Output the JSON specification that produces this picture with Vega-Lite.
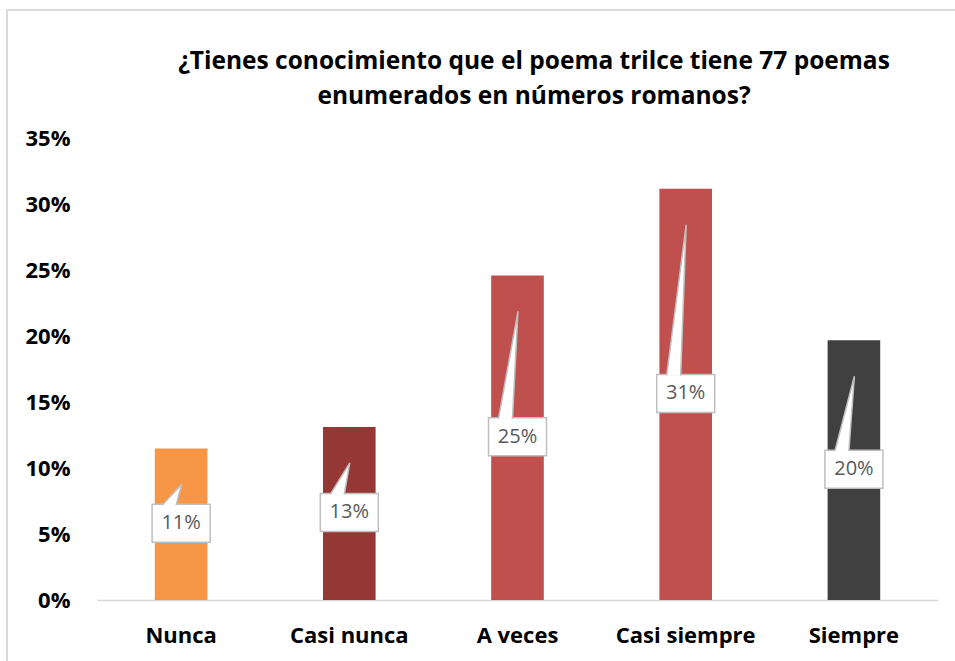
{
  "$schema": "https://vega.github.io/schema/vega-lite/v6.json",
  "width": 960,
  "height": 660,
  "autosize": "none",
  "padding": {"left": 7, "top": 10, "right": 0, "bottom": 0},
  "background": "white",
  "config": {"view": {"stroke": "#D9D9D9", "strokeWidth": 2}, "font": "Open Sans"},
  "title": {
    "text": ["¿Tienes conocimiento que el poema trilce tiene 77 poemas", "enumerados en números romanos?"],
    "font": "Open Sans", "fontSize": 24.5, "fontWeight": "bold", "color": "black",
    "lineHeight": 35, "anchor": "middle", "frame": "group", "dx": 47, "offset": -118, "baseline": "alphabetic"
  },
  "data": {"values": [
    {"respuesta": "Nunca", "porcentaje": 0.1148},
    {"respuesta": "Casi nunca", "porcentaje": 0.1311},
    {"respuesta": "A veces", "porcentaje": 0.2459},
    {"respuesta": "Casi siempre", "porcentaje": 0.3115},
    {"respuesta": "Siempre", "porcentaje": 0.1967}
  ]},
  "encoding": {
    "x": {
      "field": "respuesta", "type": "nominal", "sort": null,
      "scale": {"range": [90, 931], "paddingInner": 0.687, "paddingOuter": 0.3435},
      "axis": {"title": null, "orient": "bottom", "labelAngle": 0, "labelFont": "Open Sans", "labelFontSize": 22, "labelFontWeight": "bold", "labelColor": "black", "ticks": false, "tickSize": 0, "domainColor": "#D9D9D9", "domainWidth": 1.5, "offset": -70, "labelPadding": 25}
    }
  },
  "layer": [
    {
      "mark": {"type": "bar", "width": 52.6},
      "encoding": {
        "y": {"field": "porcentaje", "type": "quantitative",
          "scale": {"domain": [0, 0.35], "range": [590, 128], "nice": false, "zero": true},
          "axis": {"title": null, "orient": "left", "offset": -63, "domain": false, "ticks": false, "tickSize": 0, "grid": false, "labelPadding": 0, "values": [0, 0.05, 0.1, 0.15, 0.2, 0.25, 0.3, 0.35], "format": ".0%", "labelFont": "Open Sans", "labelFontSize": 22, "labelFontWeight": "bold", "labelColor": "black"}},
        "color": {"field": "respuesta", "type": "nominal", "legend": null,
          "scale": {"domain": ["Nunca", "Casi nunca", "A veces", "Casi siempre", "Siempre"], "range": ["#F79646", "#953735", "#C0504D", "#C0504D", "#404040"]}}
      }
    },
    {
      "transform": [{"calculate": "datum.porcentaje / 2", "as": "medio"}],
      "mark": {"type": "point", "shape": "M-1,-0.655H1V0.655H-1Z", "size": 3364, "filled": true, "fill": "white", "stroke": "#BFBFBF", "strokeWidth": 1.5, "opacity": 1, "yOffset": -1},
      "encoding": {"y": {"field": "medio", "type": "quantitative",
          "axis": {"title": null, "orient": "left", "offset": -63, "domain": false, "ticks": false, "tickSize": 0, "grid": false, "labelPadding": 0, "values": [0, 0.05, 0.1, 0.15, 0.2, 0.25, 0.3, 0.35], "format": ".0%", "labelFont": "Open Sans", "labelFontSize": 22, "labelFontWeight": "bold", "labelColor": "black"}}}
    },
    {
      "transform": [
        {"calculate": "[0, 1, 2]", "as": "v"},
        {"flatten": ["v"]},
        {"calculate": "datum.v == 1 ? datum.porcentaje - 0.0272 : datum.porcentaje / 2 + 0.0144", "as": "vy"},
        {"calculate": "datum.v == 0 ? -19 : (datum.v == 1 ? 0.5 : -5)", "as": "dx"}
      ],
      "mark": {"type": "line", "fill": "white", "stroke": "#BFBFBF", "strokeWidth": 1.5, "interpolate": "linear"},
      "encoding": {
        "y": {"field": "vy", "type": "quantitative",
          "axis": {"title": null, "orient": "left", "offset": -63, "domain": false, "ticks": false, "tickSize": 0, "grid": false, "labelPadding": 0, "values": [0, 0.05, 0.1, 0.15, 0.2, 0.25, 0.3, 0.35], "format": ".0%", "labelFont": "Open Sans", "labelFontSize": 22, "labelFontWeight": "bold", "labelColor": "black"}},
        "xOffset": {"field": "dx", "type": "quantitative", "scale": {"domain": [-100, 100], "range": [-73.7, 126.3]}},
        "detail": {"field": "respuesta"},
        "order": {"field": "v", "type": "quantitative"}
      }
    },
    {
      "transform": [{"calculate": "datum.porcentaje / 2", "as": "medio"}],
      "mark": {"type": "text", "font": "Open Sans", "fontSize": 20, "color": "#595959", "baseline": "middle", "yOffset": -1},
      "encoding": {
        "y": {"field": "medio", "type": "quantitative",
          "axis": {"title": null, "orient": "left", "offset": -63, "domain": false, "ticks": false, "tickSize": 0, "grid": false, "labelPadding": 0, "values": [0, 0.05, 0.1, 0.15, 0.2, 0.25, 0.3, 0.35], "format": ".0%", "labelFont": "Open Sans", "labelFontSize": 22, "labelFontWeight": "bold", "labelColor": "black"}},
        "text": {"field": "porcentaje", "type": "quantitative", "format": ".0%"}
      }
    }
  ]
}
